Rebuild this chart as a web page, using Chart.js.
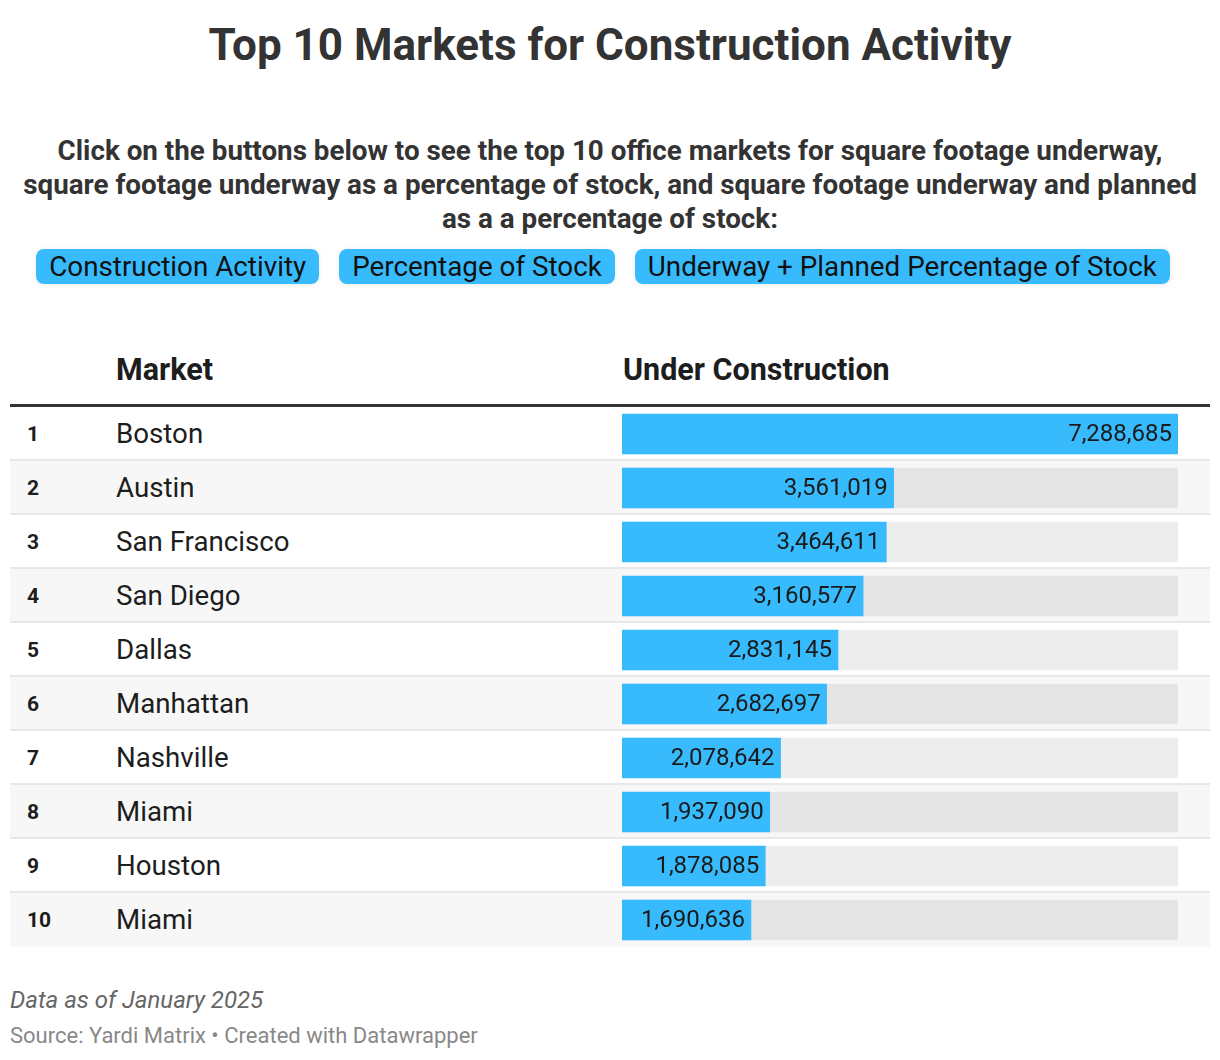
<!DOCTYPE html>
<html>
<head>
<meta charset="utf-8">
<script src="https://cdn.jsdelivr.net/npm/chart.js@4"></script>
<style>
  body { margin: 0; background: #fff; font-family: Roboto, sans-serif; color: #1d1d1d; }
  .page { position: relative; width: 1220px; height: 1060px; }
  .title { position: absolute; top: 20px; left: 0; width: 1220px; text-align: center;
           font-size: 44px; line-height: 50px; font-weight: 700; color: #333; }
  .desc { position: absolute; top: 134px; left: 0; width: 1220px; text-align: center;
          font-size: 27.8px; line-height: 34px; font-weight: 700; color: #333; white-space: nowrap; }
  .buttons { position: absolute; top: 249px; left: 0; width: 1206px; display: flex;
             justify-content: center; gap: 20px; }
  .btn { background: #37bbfd; border-radius: 8px; font-size: 27.8px; line-height: 35px;
         padding: 0 13px; color: #111; box-shadow: 0 1px 6px rgba(0,0,0,0.08); }
  .head { position: absolute; top: 350px; font-size: 30.5px; line-height: 40px; font-weight: 700; color: #1d1d1d; }
  .rule { position: absolute; top: 404px; left: 10px; width: 1200px; height: 3px; background: #333; }
  .rows { position: absolute; top: 407px; left: 10px; width: 1200px; }
  .row { height: 52px; border-bottom: 2px solid #e8e8e8; position: relative; }
  .row:nth-child(even) { background: #f7f7f7; }
  .row:last-child { border-bottom: 2px solid #f7f7f7; }
  .rank { position: absolute; left: 17px; top: 0; line-height: 54px; font-size: 21px; font-weight: 700; }
  .mkt { position: absolute; left: 106px; top: 0; line-height: 54px; font-size: 27.7px; }
  .chartbox { position: absolute; top: 407px; left: 10px; width: 1200px; height: 540px; }
  .note { position: absolute; left: 10px; top: 987px; font-size: 24px; line-height: 26px; font-style: italic; color: #666; }
  .source { position: absolute; left: 10px; top: 1024px; font-size: 22px; line-height: 24px; color: #888; }
</style>
</head>
<body>
<div class="page">
  <div class="title">Top 10 Markets for Construction Activity</div>
  <div class="desc">Click on the buttons below to see the top 10 office markets for square footage underway,<br>square footage underway as a percentage of stock, and square footage underway and planned<br>as a a percentage of stock:</div>
  <div class="buttons">
    <div class="btn">Construction Activity</div>
    <div class="btn">Percentage of Stock</div>
    <div class="btn">Underway + Planned Percentage of Stock</div>
  </div>
  <div class="head" style="left:116px">Market</div>
  <div class="head" style="left:623px">Under Construction</div>
  <div class="rule"></div>
  <div class="rows" id="rows"></div>
  <div class="chartbox"><canvas id="barChart"></canvas></div>
  <div class="note">Data as of January 2025</div>
  <div class="source">Source: Yardi Matrix • Created with Datawrapper</div>
</div>
<script>
const ranks = ['1', '2', '3', '4', '5', '6', '7', '8', '9', '10'];
const markets = ['Boston', 'Austin', 'San Francisco', 'San Diego', 'Dallas', 'Manhattan', 'Nashville', 'Miami', 'Houston', 'Miami'];
const underConstruction = [7288685, 3561019, 3464611, 3160577, 2831145, 2682697, 2078642, 1937090, 1878085, 1690636];

const maxValue = Math.max(...underConstruction);

// table rows (rank + market name)
const rowsEl = document.getElementById('rows');
markets.forEach((m, i) => {
    const row = document.createElement('div');
    row.className = 'row';
    row.innerHTML = `<span class="rank">${ranks[i]}</span><span class="mkt">${m}</span>`;
    rowsEl.appendChild(row);
});

const valueLabels = {
    id: 'valueLabels',
    afterDatasetsDraw(chart) {
        const ctx = chart.ctx;
        const meta = chart.getDatasetMeta(0);
        ctx.save();
        ctx.font = '24px Roboto';
        ctx.fillStyle = '#1a1a1a';
        ctx.textAlign = 'right';
        ctx.textBaseline = 'middle';
        meta.data.forEach((bar, i) => {
            ctx.fillText(underConstruction[i].toLocaleString('en-US'), bar.x - 6, bar.y + 1);
        });
        ctx.restore();
    }
};

new Chart(document.getElementById('barChart'), {
    type: 'bar',
    data: {
        labels: markets.map((m, i) => ranks[i] + ' ' + m),
        datasets: [{
            label: 'Under Construction',
            data: underConstruction,
            backgroundColor: '#37bbfd',
            barThickness: 40,
            grouped: false,
            order: 0
        }, {
            label: 'Track',
            data: underConstruction.map(() => maxValue),
            backgroundColor: 'rgba(0, 0, 0, 0.07)',
            barThickness: 40,
            grouped: false,
            order: 1
        }]
    },
    options: {
        indexAxis: 'y',
        responsive: true,
        maintainAspectRatio: false,
        animation: false,
        layout: { padding: { left: 612, right: 32, top: 0, bottom: 0 } },
        plugins: {
            legend: { display: false },
            tooltip: { enabled: false }
        },
        scales: {
            x: { display: false, min: 0, max: maxValue },
            y: { display: false }
        }
    },
    plugins: [valueLabels]
});
</script>
</body>
</html>
